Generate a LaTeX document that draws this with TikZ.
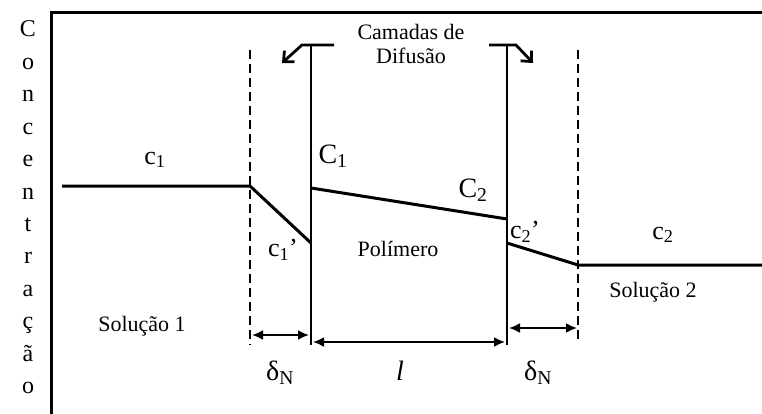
\documentclass[tikz,border=0pt]{standalone}
\usepackage{fontspec}
\setmainfont{Liberation Serif}
\usetikzlibrary{arrows.meta}

\begin{document}
\begin{tikzpicture}[x=1pt, y=-1pt,
    axl/.style={line width=3pt},
    prof/.style={line width=3pt},
    wall/.style={line width=2.8pt},
    film/.style={line width=2.8pt, dash pattern=on 9pt off 5pt},
    dimn/.style={{Latex[length=11pt,width=10pt]}-{Latex[length=11pt,width=10pt]}, line width=2pt},
    turn/.style={-{Straight Barb[length=8pt,width=15pt]}, line width=2.8pt},
    lbl/.style={font=\fontsize{22}{24}\selectfont, inner sep=0pt},
    vert/.style={font=\fontsize{24}{24}\selectfont, inner sep=0pt, anchor=base},
    conc/.style={font=\fontsize{26}{26}\selectfont, inner sep=0pt},
    big/.style={font=\fontsize{28}{28}\selectfont, inner sep=0pt}
  ]
  \useasboundingbox (0,0) rectangle (762,414);
  \coordinate (o)  at (51,13);
  \coordinate (ax) at (762,13);
  \coordinate (ay) at (51,414);
  \draw[axl] (ay) -- (o) -- (ax);
  \foreach \ch [count=\i] in {C,o,n,c,e,n,t,r,a,ç,ã,o}
    \node[vert] (v\i) at (28, {37+32.4*(\i-1)}) {\ch};

  \coordinate (f1t) at (250,50);
  \coordinate (f1b) at (250,345);
  \coordinate (f2t) at (578,50);
  \coordinate (f2b) at (578,343);
  \draw[film] (f1t) -- (f1b);
  \draw[film] (f2t) -- (f2b);

  \coordinate (w1t) at (311,45);
  \coordinate (w1b) at (311,345);
  \coordinate (w2t) at (507,45);
  \coordinate (w2b) at (507,345);
  \draw[wall] (w1t) -- (w1b);
  \draw[wall] (w2t) -- (w2b);

  \coordinate (b1r) at (334,45);
  \coordinate (b1l) at (302,45);
  \coordinate (a1)  at (282,63);
  \coordinate (b2l) at (489,45);
  \coordinate (b2r) at (516,45);
  \coordinate (a2)  at (533,63);
  \draw[turn] (b1r) -- (b1l) -- (a1);
  \draw[turn] (b2l) -- (b2r) -- (a2);

  \coordinate (p1) at (62,186);
  \coordinate (p2) at (250,186);
  \coordinate (p3) at (311,243);
  \coordinate (p4) at (311,188);
  \coordinate (p5) at (507,219);
  \coordinate (p6) at (507,243);
  \coordinate (p7) at (578,265);
  \coordinate (p8) at (762,265);
  \draw[prof] (p1) -- (p2) -- (p3);
  \draw[prof] (p4) -- (p5);
  \draw[prof] (p6) -- (p7) -- (p8);

  \coordinate (d1a) at (252,335);
  \coordinate (d1b) at (309,335);
  \coordinate (d2a) at (313,342);
  \coordinate (d2b) at (505,342);
  \coordinate (d3a) at (509,328);
  \coordinate (d3b) at (577,328);
  \draw[dimn] (d1a) -- (d1b);
  \draw[dimn] (d2a) -- (d2b);
  \draw[dimn] (d3a) -- (d3b);

  \node[lbl, align=center] (cam) at (411,44) {Camadas de\\Difusão};
  \node[conc] (c1) at (155,160) {c\textsubscript{1}};
  \node[conc] (c1p) at (283,250) {c\textsubscript{1}’};
  \node[big] (C1) at (333,156) {C\textsubscript{1}};
  \node[big] (C2) at (473,190) {C\textsubscript{2}};
  \node[conc] (c2p) at (525,232) {c\textsubscript{2}’};
  \node[conc] (c2) at (663,235) {c\textsubscript{2}};
  \node[lbl] (pol) at (398,249) {Polímero};
  \node[lbl] (s1) at (142,326) {Solução 1};
  \node[lbl] (s2) at (653,292) {Solução 2};
  \node[big] (dn1) at (280,373) {δ\textsubscript{N}};
  \node[big] (len) at (400,371) {\textit{l}};
  \node[big] (dn2) at (538,373) {δ\textsubscript{N}};
\end{tikzpicture}
\end{document}
